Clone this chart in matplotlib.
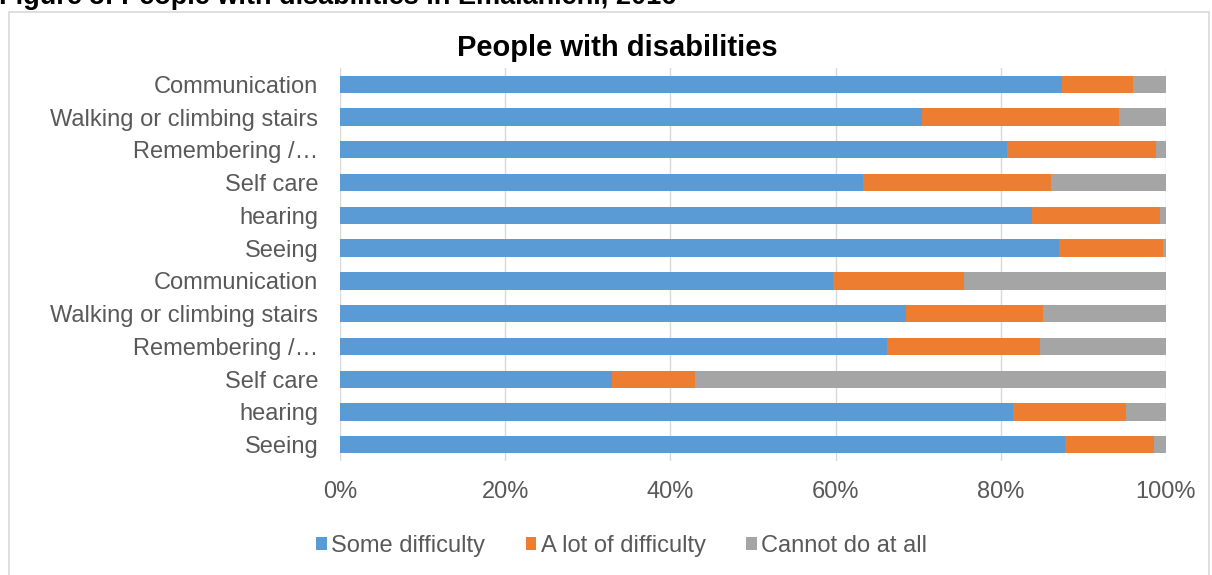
import matplotlib
matplotlib.use("Agg")
import matplotlib.pyplot as plt
from matplotlib.patches import Rectangle

plt.rcParams['font.family'] = ['Liberation Sans', 'DejaVu Sans']

categories = ["Communication", "Walking or climbing stairs", "Remembering /\u2026",
              "Self care", "hearing", "Seeing",
              "Communication", "Walking or climbing stairs", "Remembering /\u2026",
              "Self care", "hearing", "Seeing"]
some_difficulty = [87.4, 70.5, 80.8, 63.3, 83.8, 87.0,
                   59.7, 68.5, 66.2, 32.9, 81.5, 87.8]
lot_of_difficulty = [8.6, 23.8, 18.0, 22.8, 15.5, 12.7,
                     15.9, 16.6, 18.5, 10.1, 13.7, 10.8]
cannot_do = [100 - a - b for a, b in zip(some_difficulty, lot_of_difficulty)]
series_names = ["Some difficulty", "A lot of difficulty", "Cannot do at all"]
colors = ["#5B9BD5", "#ED7D31", "#A5A5A5"]
xticks = [0, 20, 40, 60, 80, 100]

fig = plt.figure(figsize=(12.12, 5.75), dpi=100)
ax = fig.add_axes([0.2805, 0.198, 0.6815, 0.684])

y = list(range(len(categories)))
left = [0.0] * len(categories)
for vals, name, col in zip([some_difficulty, lot_of_difficulty, cannot_do], series_names, colors):
    ax.barh(y, vals, left=left, height=0.53, color=col, label=name, zorder=3)
    left = [l + v for l, v in zip(left, vals)]

ax.set_ylim(len(categories) - 0.5, -0.5)
ax.set_xlim(0, 100)
ax.set_yticks(y)
ax.set_yticklabels(categories, fontsize=17, color="#595959")
ax.set_xticks(xticks)
ax.set_xticklabels([f"{t}%" for t in xticks], fontsize=17, color="#595959")
ax.tick_params(axis="both", length=0)
ax.tick_params(axis="y", pad=15.5)
ax.tick_params(axis="x", pad=14)
ax.grid(axis="x", color="#D9D9D9", linewidth=1, zorder=0)
for s in ax.spines.values():
    s.set_visible(False)

fig.text(0.509, 0.916, "People with disabilities", ha="center", va="center",
         fontsize=21, fontweight="bold", color="black")

leg = fig.legend(loc="center", bbox_to_anchor=(0.513, 0.051), ncol=3, frameon=False,
                 fontsize=17, handlelength=0.45, handleheight=0.45,
                 handletextpad=0.2, columnspacing=1.7)
for t in leg.get_texts():
    t.set_color("#595959")

# outer chart border
fig.patches.append(Rectangle((0.0075, -0.01), 0.99, 0.99, transform=fig.transFigure,
                             fill=False, edgecolor="#D9D9D9", linewidth=1.2))

fig.text(-0.001, 1 - 4 / 575, "Figure 3: People with disabilities in Emalahleni, 2016",
         ha="left", va="baseline", fontsize=19.5, fontweight="bold", color="black")

fig.savefig("out.png", dpi=100, facecolor="white")
